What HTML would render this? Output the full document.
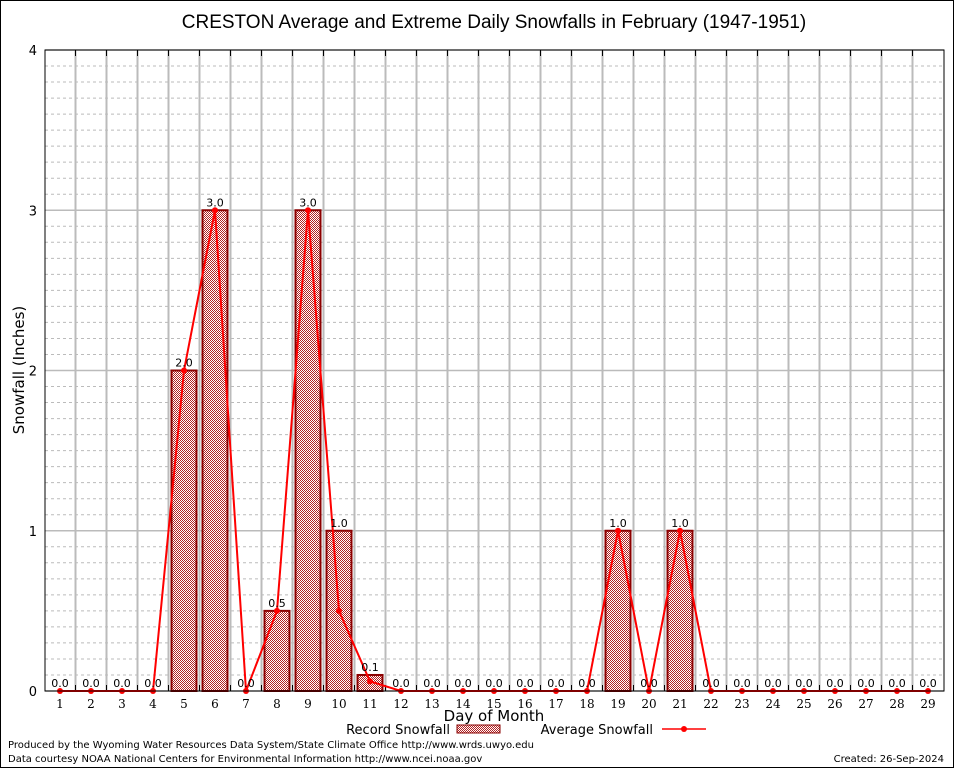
<!DOCTYPE html>
<html><head><meta charset="utf-8"><style>
body{margin:0;background:#fff;}
svg{display:block;font-family:"DejaVu Sans","Liberation Sans",sans-serif;}
</style></head><body>
<svg id="chart" width="954" height="768" viewBox="0 0 954 768">
<defs>
<pattern id="chk" width="2" height="2" patternUnits="userSpaceOnUse">
<rect width="2" height="2" fill="#fff"/><rect width="1" height="1" fill="#b22222"/><rect x="1" y="1" width="1" height="1" fill="#b22222"/>
</pattern>
</defs>
<rect x="0.5" y="0.5" width="953" height="767" fill="#fff" stroke="#000"/>
<text x="494" y="28" font-size="19" text-anchor="middle" font-family="Liberation Sans, sans-serif">CRESTON Average and Extreme Daily Snowfalls in February (1947-1951)</text>
<g id="grid"></g>
<g id="bars"></g>
<g id="line"></g>
<g id="labels"></g>
<rect x="45" y="50" width="899" height="641" fill="none" stroke="#000"/>
<text x="24" y="370" font-size="15" text-anchor="middle" transform="rotate(-90 24 370)">Snowfall (Inches)</text>
<text x="494" y="721" font-size="15" text-anchor="middle">Day of Month</text>
<g>
<text x="450" y="734" font-size="13" text-anchor="end">Record Snowfall</text>
<rect x="457" y="725" width="43" height="8" fill="url(#chk)" stroke="#8b0000"/>
</g>
<g>
<text x="653" y="734" font-size="13" text-anchor="end">Average Snowfall</text>
<line x1="662" y1="729" x2="706" y2="729" stroke="#f00" stroke-width="1.5"/>
<circle cx="684" cy="729" r="3" fill="#f00"/>
</g>
<text x="8" y="748" font-size="10">Produced by the Wyoming Water Resources Data System/State Climate Office http://www.wrds.uwyo.edu</text>
<text x="8" y="762" font-size="10">Data courtesy NOAA National Centers for Environmental Information http://www.ncei.noaa.gov</text>
<text x="944" y="762" font-size="10" text-anchor="end">Created: 26-Sep-2024</text>
</svg>
<script>
const days = [1,2,3,4,5,6,7,8,9,10,11,12,13,14,15,16,17,18,19,20,21,22,23,24,25,26,27,28,29];
const records = [0,0,0,0,2.0,3.0,0,0.5,3.0,1.0,0.1,0,0,0,0,0,0,0,1.0,0,1.0,0,0,0,0,0,0,0,0];
const averages = [0,0,0,0,2.0,3.0,0,0.5,3.0,0.5,0.06,0,0,0,0,0,0,0,1.0,0,1.0,0,0,0,0,0,0,0,0];
const yTicks = [0,1,2,3,4];
const NS='http://www.w3.org/2000/svg';
const L=45,R=944,T=50,B=691;
const x=d=>60+(d-1)*31;
const y=v=>B-(v/4)*(B-T);
function mk(tag,attrs,parent,text){const e=document.createElementNS(NS,tag);for(const k in attrs)e.setAttribute(k,attrs[k]);if(text!==undefined)e.textContent=text;parent.appendChild(e);return e;}
const grid=document.getElementById('grid');
for(let i=1;i<40;i++){ if(i%10===0) continue; const v=i/10; const ln=mk('line',{x1:L,x2:R,y1:y(v),y2:y(v),stroke:'#bbb','stroke-dasharray':'3,3'},grid);

}
yTicks.forEach(v=>{const ln=mk('line',{x1:L,x2:R,y1:y(v),y2:y(v),stroke:'#bbb','stroke-width':1.5},grid);


const t=mk('text',{x:37,y:y(v)+5,'font-size':13,'text-anchor':'end'},grid,String(v));

});
days.forEach(d=>{ if(d<29){const ln=mk('line',{x1:x(d)+15.5,x2:x(d)+15.5,y1:T,y2:B,stroke:'#bbb','stroke-width':2},grid);


mk('line',{x1:x(d)+15.5,x2:x(d)+15.5,y1:T,y2:T+6,stroke:'#000'},grid);
mk('line',{x1:x(d)+15.5,x2:x(d)+15.5,y1:B,y2:B-6,stroke:'#000'},grid);}
const t=mk('text',{x:x(d),y:708,'font-size':12,'text-anchor':'middle','font-family':'DejaVu Serif, serif'},grid,String(d));

});
const bars=document.getElementById('bars');
const labels=document.getElementById('labels');
days.forEach((d,i)=>{const v=records[i];
if(v>0){const r=mk('rect',{x:x(d)-12.5,y:y(v),width:25,height:B-y(v),fill:'url(#chk)',stroke:'#8b0000','stroke-width':2},bars);

}
const t=mk('text',{x:x(d),y:y(v)-4,'font-size':11,'text-anchor':'middle'},labels,v.toFixed(1));

});
const line=document.getElementById('line');
const pts=days.map((d,i)=>x(d)+','+y(averages[i])).join(' ');
const pl=mk('polyline',{points:pts,fill:'none',stroke:'#f00','stroke-width':2},line);


days.forEach((d,i)=>{const c=mk('circle',{cx:x(d),cy:y(averages[i]),r:3,fill:'#f00'},line);

});
</script>
</body></html>
